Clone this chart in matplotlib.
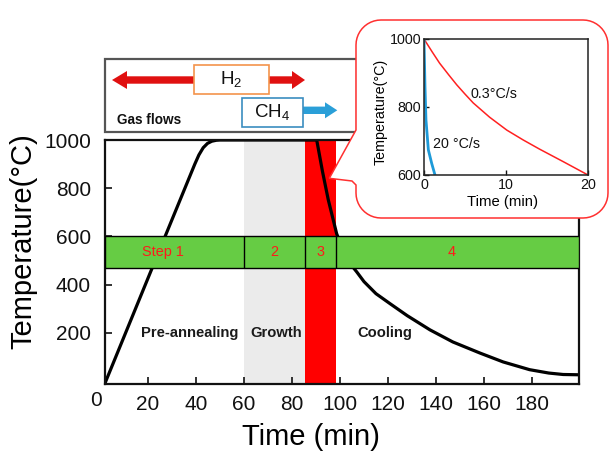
import numpy as np
import matplotlib
matplotlib.use('Agg')
import matplotlib.pyplot as plt
from matplotlib.patches import Rectangle, Polygon

plt.rcParams['font.family'] = ['Liberation Sans', 'DejaVu Sans']
plt.rcParams['mathtext.fontset'] = 'custom'
plt.rcParams['mathtext.rm'] = 'Liberation Sans'

# ---------------- data ----------------
time_min = [2, 27.4, 39.5, 41.2, 43, 44.8, 46.6, 48.5, 50, 88, 90.3, 92.7, 95.1, 98.6,
            101, 103, 105, 107, 110, 115, 120.8, 128, 137.5, 147, 158.3, 168, 179,
            187, 193, 198.6]
temp_c = [-10, 607, 900, 938, 968, 986, 995, 999, 1000, 1000, 1000, 870, 753, 612,
          550, 508, 478, 453, 413, 363, 322, 272, 213, 163, 117, 80, 48,
          34, 28, 27]

x_ticks = [20, 40, 60, 80, 100, 120, 140, 160, 180]
y_ticks = [200, 400, 600, 800, 1000]

growth_span = [60, 85.4]
cooling_span = [85.4, 98.2]
stage_bounds = [60, 85.4, 98.2]
band_range = [470, 600]
step_labels = ['Step 1', '2', '3', '4']
step_x = [26.4, 72.7, 91.8, 146.7]
phase_labels = ['Pre-annealing', 'Growth', 'Cooling']
phase_x = [37.5, 73.3, 118.8]
phase_y = 200

fast_t = [0, 0.12, 0.24, 0.53, 0.94, 1.34]
fast_T = [1000, 860, 762, 674, 634, 600]
slow_t = [0, 1.0, 1.9, 3.0, 4.0, 5.0, 6.0, 8.0, 10.1, 12.1, 14.1, 17.0, 20]
slow_T = [1000, 962, 929, 895, 865, 838, 812, 770, 732, 703, 676, 639, 600]
inset_xticks = [0, 10, 20]
inset_yticks = [600, 800, 1000]

# ---------------- figure ----------------
W, H = 610, 451
fig = plt.figure(figsize=(W / 100, H / 100), dpi=100)


def fx(x):
    return x / W


def fy(y):
    return 1 - y / H


def pts(lst):
    return [(fx(a), fy(b)) for a, b in lst]


ax = fig.add_axes([fx(105), fy(384), (579 - 105) / W, (384 - 140) / H])
xmin, xmax = 2.08, 199.6
ax.set_xlim(xmin, xmax)
ax.set_ylim(-11.4, 1000)

ax.axvspan(*growth_span, color='#ebebeb', lw=0, zorder=0)
ax.axvspan(*cooling_span, color='#ff0000', lw=0, zorder=1)
ax.plot(time_min, temp_c, color='black', lw=2.3, zorder=2, solid_joinstyle='round')
ax.add_patch(Rectangle((xmin, band_range[0]), xmax - xmin, band_range[1] - band_range[0],
                       fc='#66cc44', ec='black', lw=1, zorder=3))
ax.vlines(stage_bounds, band_range[0], band_range[1], color='black', lw=1, zorder=4)
band_mid = sum(band_range) / 2
for lab, x in zip(step_labels, step_x):
    ax.text(x, band_mid, lab, color='#ff1a1a', fontsize=10.4, ha='center', va='center', zorder=5)
for lab, x in zip(phase_labels, phase_x):
    ax.text(x, phase_y, lab, color='#1a1a1a', fontsize=10.6, fontweight='bold',
            ha='center', va='center', zorder=5)

ax.set_xticks(x_ticks)
ax.set_yticks(y_ticks)
ax.tick_params(direction='in', length=5, width=1.2, labelsize=15, colors='#111111')
ax.tick_params(axis='x', pad=8)
ax.tick_params(axis='y', pad=10)
for s in ax.spines.values():
    s.set_linewidth(1.6)
    s.set_color('#111111')
ax.text(-1.5, -0.068, '0', transform=ax.get_xaxis_transform(), fontsize=15, ha='center',
        va='center', color='#111111', clip_on=False)

ax.set_xlabel('Time (min)', fontsize=21, va='center')
ax.xaxis.set_label_coords((311 - 105) / 474, (384 - 437) / 244)
ax.set_ylabel('Temperature(\u00b0C)', fontsize=21, va='center')
ax.yaxis.set_label_coords((23 - 105) / 474, (384 - 241.5) / 244)

# ---------------- gas flow box ----------------
fig.add_artist(Rectangle((fx(105), fy(132)), (357 - 105) / W, (132 - 59) / H,
                         transform=fig.transFigure, fc='white', ec='#555555', lw=1.6, zorder=1))
cy, tl, bl, br, tr, sh, hh = 80, 112, 127, 292, 305, 3.7, 9
h2_arrow = [(tl, cy), (bl, cy - hh), (bl, cy - sh), (br, cy - sh), (br, cy - hh), (tr, cy),
            (br, cy + hh), (br, cy + sh), (bl, cy + sh), (bl, cy + hh)]
fig.add_artist(Polygon(pts(h2_arrow), closed=True, transform=fig.transFigure,
                       fc='#e01010', ec='none', zorder=1.2))
cy2, s2, b2, t2, hh2 = 110.3, 303, 325, 337.3, 8
ch4_arrow = [(s2, cy2 - sh), (b2, cy2 - sh), (b2, cy2 - hh2), (t2, cy2), (b2, cy2 + hh2),
             (b2, cy2 + sh), (s2, cy2 + sh)]
fig.add_artist(Polygon(pts(ch4_arrow), closed=True, transform=fig.transFigure,
                       fc='#2a9fd8', ec='none', zorder=1.2))
fig.add_artist(Rectangle((fx(194), fy(94)), (269.3 - 194) / W, (94 - 65) / H,
                         transform=fig.transFigure, fc='white', ec='#f4944c', lw=1.2, zorder=1.4))
fig.add_artist(Rectangle((fx(241.7), fy(126.7)), (302.7 - 241.7) / W, (126.7 - 98.3) / H,
                         transform=fig.transFigure, fc='white', ec='#3b8dc0', lw=1.2, zorder=1.4))
fig.text(fx(231.5), fy(80), r'H$_\mathregular{2}$', fontsize=13.5, ha='center', va='center',
         color='#111111', zorder=1.6)
fig.text(fx(272), fy(112.5), r'CH$_\mathregular{4}$', fontsize=13.5, ha='center', va='center',
         color='#111111', zorder=1.6)
fig.text(fx(117), fy(120), 'Gas flows', fontsize=9.8, fontweight='bold', ha='left',
         va='center', color='#111111', zorder=1.6)

# ---------------- callout ----------------
x0, x1, y0, y1, r = 356, 608, 20, 218, 25


def arc(cx, cyy, a0, a1, n=12):
    a = np.radians(np.linspace(a0, a1, n))
    return list(zip(cx + r * np.cos(a), cyy + r * np.sin(a)))


path_pts = []
path_pts += arc(x1 - r, y0 + r, -90, 0)
path_pts += arc(x1 - r, y1 - r, 0, 90)
path_pts += arc(x0 + r, y1 - r, 90, 180)
path_pts += [(x0, 185), (352, 181), (329.3, 178.3), (x0, 130)]
path_pts += arc(x0 + r, y0 + r, 180, 270)
fig.add_artist(Polygon(pts(path_pts), closed=True, transform=fig.transFigure,
                       fc='white', ec='#ff3030', lw=1.1, zorder=3))

# ---------------- inset ----------------
ins = fig.add_axes([fx(424), fy(175), (588 - 424) / W, (175 - 39) / H], zorder=5)
ins.plot(slow_t, slow_T, color='#ff2020', lw=1.1, solid_joinstyle='round')
ins.plot(fast_t, fast_T, color='#1e9ad8', lw=2, solid_joinstyle='round')
ins.set_xlim(0, 20)
ins.set_ylim(600, 1000)
ins.set_xticks(inset_xticks)
ins.set_yticks(inset_yticks)
ins.tick_params(direction='in', length=3.5, width=1, labelsize=10.3, pad=2, colors='#111111')
for s in ins.spines.values():
    s.set_linewidth(1.1)
    s.set_color('#222222')
ins.text(8.5, 838, '0.3\u00b0C/s', fontsize=10.3, ha='center', va='center', color='#111111')
ins.text(1.06, 691, '20 \u00b0C/s', fontsize=10.3, ha='left', va='center', color='#111111')
ins.set_xlabel('Time (min)', fontsize=10.7, va='center')
ins.xaxis.set_label_coords((502.5 - 424) / 164, (175 - 202) / 136)
ins.set_ylabel('Temperature(\u00b0C)', fontsize=10.3, va='center')
ins.yaxis.set_label_coords((381 - 424) / 164, (175 - 111.5) / 136)

fig.savefig('out.png', dpi=100)
